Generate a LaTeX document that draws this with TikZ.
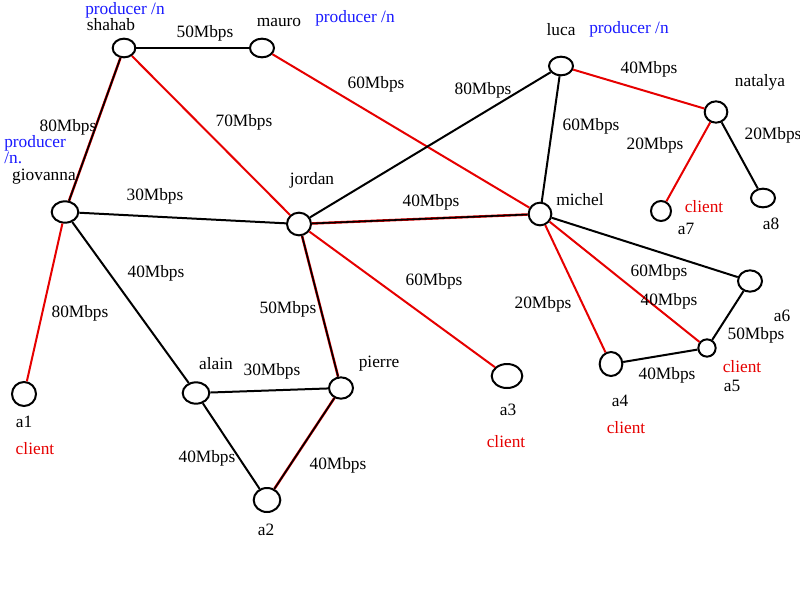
\documentclass[tikz,border=0pt]{standalone}
\usepackage{fontspec}
\setmainfont{Liberation Serif}
\usetikzlibrary{shapes.geometric}
\definecolor{prodblue}{RGB}{25,25,255}
\definecolor{pathred}{RGB}{230,0,0}

\begin{document}
\begin{tikzpicture}[
    x=0.75pt, y=-0.75pt,
    host/.style={ellipse, draw, line width=1.5pt, fill=white, inner sep=0pt,
                 minimum width=#1, minimum height=14pt},
    host/.default=18pt,
    link/.style={line width=1.5pt},
    redlink/.style={line width=1.5pt, draw=pathred},
    mixlink/.style={line width=1.2pt, preaction={draw=pathred, line width=1.9pt}},
    hostlbl/.style={font=\fontsize{13}{14}\selectfont},
    bw/.style={font=\fontsize{13}{14}\selectfont},
    prod/.style={font=\fontsize{13}{14}\selectfont, text=prodblue, align=left},
    cli/.style={font=\fontsize{13}{14}\selectfont, text=pathred}
]
\useasboundingbox (0,0) rectangle (800,600);

\node[host=17pt] (shahab) at (124,48) {};
\node[host] (mauro) at (262,48) {};
\node[host=20pt, minimum height=16pt] (giovanna) at (65,212) {};
\node[host, minimum height=17pt] (jordan) at (299,224) {};
\node[host] (luca) at (561,66) {};
\node[host=17pt, minimum height=16pt] (natalya) at (716,112) {};
\node[host=17pt, minimum height=17pt] (michel) at (540,214) {};
\node[host=15pt, minimum height=15pt] (a7) at (661,211) {};
\node[host] (a8) at (763,198) {};
\node[host, minimum height=16pt] (a6) at (750,281) {};
\node[host=13pt, minimum height=13pt] (a5) at (707,348) {};
\node[host=17pt, minimum height=18pt] (a4) at (611,364) {};
\node[host=23pt, minimum height=18pt] (a3) at (507,376) {};
\node[host=18pt, minimum height=18pt] (a1) at (24,394) {};
\node[host=20pt, minimum height=16pt] (alain) at (196,393) {};
\node[host, minimum height=16pt] (pierre) at (341,388) {};
\node[host=20pt, minimum height=18pt] (a2) at (267,500) {};

\draw[link] (shahab) -- (mauro);
\draw[mixlink] (shahab) -- (giovanna);
\draw[redlink] (shahab) -- (jordan);
\draw[redlink] (mauro) -- (michel);
\draw[link] (giovanna) -- (jordan);
\draw[redlink] (giovanna) -- (a1);
\draw[link] (giovanna) -- (alain);
\draw[link] (jordan) -- (luca);
\draw[mixlink] (jordan) -- (michel);
\draw[mixlink] (jordan) -- (pierre);
\draw[redlink] (jordan) -- (a3);
\draw[link] (alain) -- (pierre);
\draw[link] (alain) -- (a2);
\draw[mixlink] (pierre) -- (a2);
\draw[link] (luca) -- (michel);
\draw[redlink] (luca) -- (natalya);
\draw[redlink] (natalya) -- (a7);
\draw[link] (natalya) -- (a8);
\draw[link] (michel) -- (a6);
\draw[redlink] (michel) -- (a5);
\draw[redlink] (michel) -- (a4);
\draw[link] (a6) -- (a5);
\draw[link] (a4) -- (a5);

\node[hostlbl] (shahabname) at (111,25) {shahab};
\node[prod] (shahabprod) at (125,10) {producer /n};
\node[hostlbl] (mauroname) at (279,22) {mauro};
\node[prod] (mauroprod) at (355,18) {producer /n};
\node[hostlbl] (lucaname) at (561,30) {luca};
\node[prod] (lucaprod) at (629,29) {producer /n};
\node[hostlbl] (natalyaname) at (760,82) {natalya};
\node[prod, anchor=north west, inner sep=0pt] (giovannaprod) at (4,135) {producer\\[-2pt]/n.};
\node[hostlbl, inner sep=0pt] (giovannaname) at (44,177) {giovanna};
\node[hostlbl] (jordanname) at (312,180) {jordan};
\node[hostlbl] (michelname) at (580,200) {michel};
\node[cli] (a7cli) at (704,207) {client};
\node[hostlbl] (a7name) at (686,229) {a7};
\node[hostlbl] (a8name) at (771,224) {a8};
\node[hostlbl, inner sep=1pt] (a6name) at (782,316) {a6};
\node[cli] (a5cli) at (742,367) {client};
\node[hostlbl] (a5name) at (732,386) {a5};
\node[hostlbl] (a4name) at (620,401) {a4};
\node[cli] (a4cli) at (626,428) {client};
\node[hostlbl] (a3name) at (508,410) {a3};
\node[cli] (a3cli) at (506,442) {client};
\node[hostlbl] (a1name) at (24,422) {a1};
\node[cli] (a1cli) at (35,449) {client};
\node[hostlbl] (alainname) at (216,364) {alain};
\node[hostlbl] (pierrename) at (379,364) {pierre};
\node[hostlbl] (a2name) at (266,530) {a2};

\node[bw] (bwsm) at (205,33) {50Mbps};
\node[bw] (bwmm) at (376,84) {60Mbps};
\node[bw] (bwsj) at (244,122) {70Mbps};
\node[bw] (bwsg) at (68,127) {80Mbps};
\node[bw] (bwgj) at (155,196) {30Mbps};
\node[bw] (bwgal) at (156,273) {40Mbps};
\node[bw] (bwga1) at (80,313) {80Mbps};
\node[bw] (bwjp) at (288,309) {50Mbps};
\node[bw] (bwja3) at (434,281) {60Mbps};
\node[bw] (bwjm) at (431,202) {40Mbps};
\node[bw] (bwjl) at (483,90) {80Mbps};
\node[bw] (bwlm) at (591,126) {60Mbps};
\node[bw] (bwln) at (649,69) {40Mbps};
\node[bw] (bwna7) at (655,145) {20Mbps};
\node[bw] (bwna8) at (773,135) {20Mbps};
\node[bw] (bwalp) at (272,371) {30Mbps};
\node[bw] (bwala2) at (207,458) {40Mbps};
\node[bw] (bwpa2) at (338,465) {40Mbps};
\node[bw] (bwma6) at (659,272) {60Mbps};
\node[bw] (bwma5) at (669,301) {40Mbps};
\node[bw] (bwma4) at (543,304) {20Mbps};
\node[bw] (bwa4a5) at (667,375) {40Mbps};
\node[bw, inner sep=1pt] (bwa6a5) at (756,335) {50Mbps};
\end{tikzpicture}
\end{document}
